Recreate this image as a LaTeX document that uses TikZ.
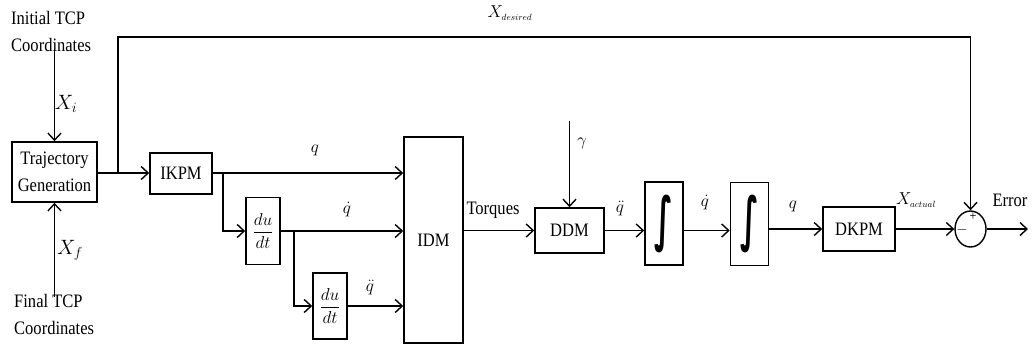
\documentclass[tikz,border=0pt]{standalone}
\usepackage{fontspec}
\setmainfont{Liberation Serif}[FakeStretch=0.87]
\newfontfamily\intfont{DejaVu Sans}
\usetikzlibrary{arrows.meta,shapes.geometric}
\begin{document}
\begin{tikzpicture}[x=1pt,y=-1pt,
  every node/.style={font=\fontsize{19}{27}\selectfont},
  blk/.style={draw,line width=1.6pt,inner sep=0pt,align=center},
  ln/.style={line width=1.4pt},
  arr/.style={ln,-{Straight Barb[length=7pt,width=13pt]}},
  lbl/.style={inner sep=0pt},
  intg/.style={blk,minimum width=38pt,minimum height=83pt}]
\useasboundingbox (0,0) rectangle (1032,345);

% blocks
\node[blk,minimum width=85pt,minimum height=60pt] (tg) at (54.5,172) {Trajectory\\Generation};
\node[blk,minimum width=62pt,minimum height=41pt] (ikpm) at (181,173.5) {IKPM};
\node[blk,minimum width=34pt,minimum height=67pt] (d1) at (263,231) {$\displaystyle\frac{du}{dt}$};
\node[blk,minimum width=34pt,minimum height=66pt] (d2) at (330,306) {$\displaystyle\frac{du}{dt}$};
\node[blk,minimum width=59pt,minimum height=206pt] (idm) at (433.5,240) {IDM};
\node[blk,minimum width=69pt,minimum height=45pt] (ddm) at (569.5,230.5) {DDM};
\node[intg] (i1) at (664,223.5) {\scalebox{1.6}[3.1]{\intfont\bfseries ∫}};
\node[intg] (i2) at (749.5,224) {\scalebox{1.6}[3.1]{\intfont\bfseries ∫}};
\node[blk,minimum width=72pt,minimum height=44pt] (dkpm) at (859,229) {DKPM};
\node[draw,ellipse,line width=1.4pt,minimum width=31pt,minimum height=36pt,inner sep=0pt] (sum) at (970.5,229) {};

% texts
\node[lbl,anchor=west,align=left] (init) at (11,32) {Initial TCP\\Coordinates};
\node[lbl,anchor=west,align=left] (final) at (14,314) {Final TCP\\Coordinates};
\coordinate (gam) at (569.5,121);
\coordinate (err) at (1028,229);
\coordinate (br1) at (118,173);
\coordinate (br2) at (223,173);
\coordinate (br3) at (294,231);
\coordinate (top) at (118,37);

% connectors
\draw[arr] (init.south -| tg.north) ++(0,-3) -- (tg.north);
\draw[arr] (final.north -| tg.south) ++(0,3) -- (tg.south);
\draw[arr] (tg.east |- br1) -- (ikpm.west |- br1);
\draw[arr] (br1) -- (top) -| (sum.north);
\draw[arr] (ikpm.east |- br2) -- (idm.west |- br2);
\draw[arr] (br2) |- (d1.west);
\draw[arr] (d1.east) -- (idm.west |- d1.east);
\draw[arr] (br3) |- (d2.west);
\draw[arr] (d2.east) -- (idm.west |- d2.east);
\draw[arr] (idm.east |- ddm.west) -- (ddm.west);
\draw[arr] (gam) -- (ddm.north);
\draw[arr] (ddm.east) -- (i1.west |- ddm.east);
\draw[arr] (i1.east |- ddm.east) -- (i2.west |- ddm.east);
\draw[arr] (i2.east |- dkpm.west) -- (dkpm.west);
\draw[arr] (dkpm.east) -- (sum.west);
\draw[arr] (sum.east) -- (err);

% labels
\node[lbl] (lxd) at (510,13) {$X_{\scriptscriptstyle desired}$};
\node[lbl,font=\fontsize{21}{21}\selectfont] (lxi) at (66,104) {$X_i$};
\node[lbl,font=\fontsize{21}{21}\selectfont] (lxf) at (70,250) {$X_f$};
\node[lbl] (lq1) at (315,150) {$q$};
\node[lbl] (lq2) at (347,210) {$\dot q$};
\node[lbl] (lq3) at (370,288) {$\ddot q$};
\node[lbl] (ltq) at (493,210) {Torques};
\node[lbl] (lgm) at (582,143) {$\gamma$};
\node[lbl] (lq4) at (620,209) {$\ddot q$};
\node[lbl] (lq5) at (705,203) {$\dot q$};
\node[lbl] (lq6) at (793,206) {$q$};
\node[lbl] (lxa) at (916,200) {$X_{\scriptscriptstyle actual}$};
\node[lbl] (ler) at (1010,200) {Error};
\node[lbl,font=\fontsize{14}{14}\selectfont] (lpl) at (973,217) {+};
\node[lbl,font=\fontsize{14}{14}\selectfont] (lmi) at (962,230) {$-$};
\end{tikzpicture}
\end{document}
